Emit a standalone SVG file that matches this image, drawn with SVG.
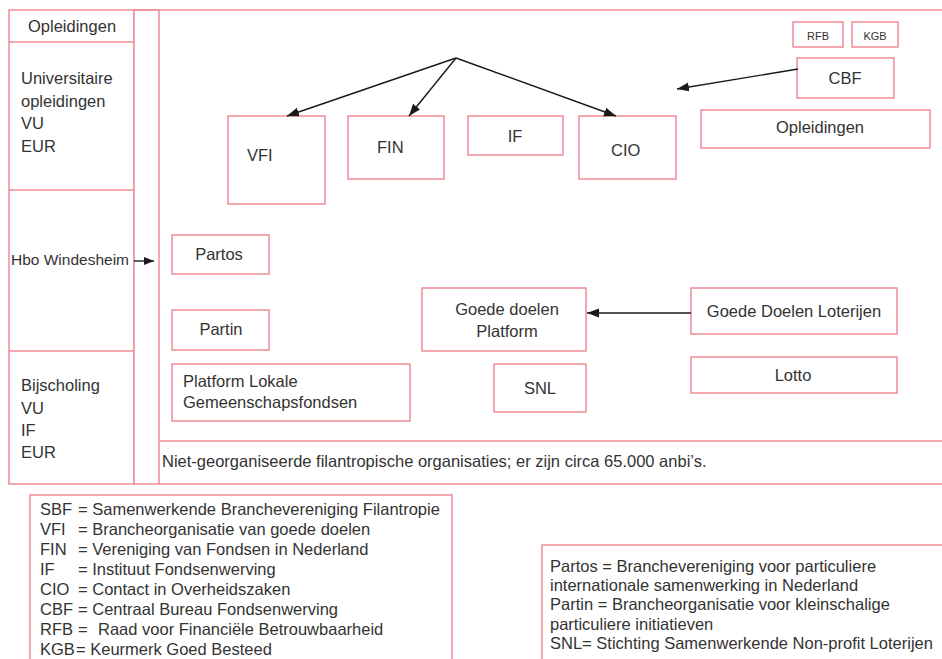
<svg xmlns="http://www.w3.org/2000/svg" width="942" height="659" viewBox="0 0 942 659">
<style>
.b{fill:#fff;stroke:#f08c96;stroke-width:1.5}
.l{fill:none;stroke:#f08c96;stroke-width:1.5}
text{font-family:"Liberation Sans",Arial,sans-serif;font-size:16.5px;fill:#333}
.c{text-anchor:middle}
.s{font-size:11px}
.a{fill:none;stroke:#1a1a1a;stroke-width:1.4}
</style>
<defs>
<marker id="ah" markerUnits="userSpaceOnUse" markerWidth="13" markerHeight="10" refX="12" refY="4.5" orient="auto">
<path d="M0,0 L12,4.5 L0,9 z" fill="#1a1a1a"/>
</marker>
<marker id="ahs" markerUnits="userSpaceOnUse" markerWidth="11" markerHeight="9" refX="10" refY="4" orient="auto">
<path d="M0,0 L10,4 L0,8 z" fill="#1a1a1a"/>
</marker>
</defs>
<g id="frame">
<rect class="b" x="9" y="10" width="125" height="474"/>
<rect class="b" x="134" y="10" width="25" height="474"/>
<path class="l" d="M134,10 H942 M159,441 H942 M159,484 H942 M9,42 H134 M9,190 H134 M9,351 H134"/>
</g>
<g id="left-opleidingen"><text x="28" y="32">Opleidingen</text></g>
<g id="left-universitair"><text x="21" y="84">Universitaire<tspan x="21" y="106.5">opleidingen</tspan><tspan x="21" y="129">VU</tspan><tspan x="21" y="151.5">EUR</tspan></text></g>
<g id="left-hbo"><text x="11" y="265" style="font-size:15.5px">Hbo Windesheim</text></g>
<g id="left-bijscholing"><text x="21" y="391">Bijscholing<tspan x="21" y="413.5">VU</tspan><tspan x="21" y="436">IF</tspan><tspan x="21" y="458">EUR</tspan></text></g>
<g id="rfb"><rect class="b" x="793" y="22" width="50" height="25"/><text class="c s" x="818" y="40">RFB</text></g>
<g id="kgb"><rect class="b" x="852" y="22" width="46" height="25"/><text class="c s" x="875" y="40">KGB</text></g>
<g id="cbf"><rect class="b" x="797" y="58" width="97" height="40"/><text class="c" x="845" y="84">CBF</text></g>
<g id="opleidingen-r"><rect class="b" x="701" y="110" width="229" height="38"/><text class="c" x="820" y="133">Opleidingen</text></g>
<g id="vfi"><rect class="b" x="228" y="116" width="97" height="88"/><text x="247" y="161">VFI</text></g>
<g id="fin"><rect class="b" x="348" y="116" width="96" height="63"/><text x="377" y="153">FIN</text></g>
<g id="if"><rect class="b" x="468" y="116" width="95" height="39"/><text class="c" x="515" y="142">IF</text></g>
<g id="cio"><rect class="b" x="579" y="116" width="97" height="63"/><text x="611" y="156">CIO</text></g>
<g id="partos"><rect class="b" x="172" y="235" width="97" height="39"/><text class="c" x="219" y="260">Partos</text></g>
<g id="partin"><rect class="b" x="172" y="310" width="97" height="40"/><text class="c" x="221" y="335">Partin</text></g>
<g id="plgf"><rect class="b" x="172" y="364" width="238" height="57"/><text x="183" y="387">Platform Lokale<tspan x="183" y="408">Gemeenschapsfondsen</tspan></text></g>
<g id="gdp"><rect class="b" x="422" y="288" width="164" height="63"/><text class="c" x="507" y="315">Goede doelen<tspan x="507" y="337">Platform</tspan></text></g>
<g id="snl"><rect class="b" x="494" y="364" width="92" height="48"/><text class="c" x="540" y="394">SNL</text></g>
<g id="gdl"><rect class="b" x="691" y="288" width="206" height="46"/><text class="c" x="794" y="317">Goede Doelen Loterijen</text></g>
<g id="lotto"><rect class="b" x="691" y="357" width="206" height="36"/><text class="c" x="793" y="381">Lotto</text></g>
<g id="niet"><text x="162" y="467">Niet-georganiseerde filantropische organisaties; er zijn circa 65.000 anbi’s.</text></g>
<g id="connectors">
<line class="a" x1="456" y1="58" x2="287" y2="116" marker-end="url(#ah)"/>
<line class="a" x1="456" y1="58" x2="409" y2="116" marker-end="url(#ah)"/>
<line class="a" x1="456" y1="58" x2="616" y2="116" marker-end="url(#ah)"/>
<line class="a" x1="798" y1="69" x2="677" y2="89" marker-end="url(#ah)"/>
<line class="a" x1="691" y1="313" x2="587" y2="313" marker-end="url(#ah)"/>
<line class="a" x1="134" y1="261" x2="154" y2="261" marker-end="url(#ahs)"/>
</g>
<g id="legend-left">
<rect class="b" x="30" y="495" width="422" height="180"/>
<text x="40" y="515">SBF<tspan x="78">= Samenwerkende Branchevereniging Filantropie</tspan></text>
<text x="40" y="535">VFI<tspan x="78">= Brancheorganisatie van goede doelen</tspan></text>
<text x="40" y="555">FIN<tspan x="78">= Vereniging van Fondsen in Nederland</tspan></text>
<text x="40" y="575">IF<tspan x="78">= Instituut Fondsenwerving</tspan></text>
<text x="40" y="595">CIO<tspan x="78">= Contact in Overheidszaken</tspan></text>
<text x="40" y="615">CBF<tspan x="78">= Centraal Bureau Fondsenwerving</tspan></text>
<text x="40" y="635">RFB<tspan x="78">=</tspan><tspan x="98">Raad voor Financiële Betrouwbaarheid</tspan></text>
<text x="40" y="655">KGB<tspan x="76">= Keurmerk Goed Besteed</tspan></text>
</g>
<g id="legend-right">
<rect class="b" x="542" y="545" width="420" height="130"/>
<text x="550" y="572">Partos = Branchevereniging voor particuliere</text>
<text x="550" y="591">internationale samenwerking in Nederland</text>
<text x="550" y="610">Partin = Brancheorganisatie voor kleinschalige</text>
<text x="550" y="630">particuliere initiatieven</text>
<text x="550" y="649">SNL= Stichting Samenwerkende Non-profit Loterijen</text>
</g>
</svg>
